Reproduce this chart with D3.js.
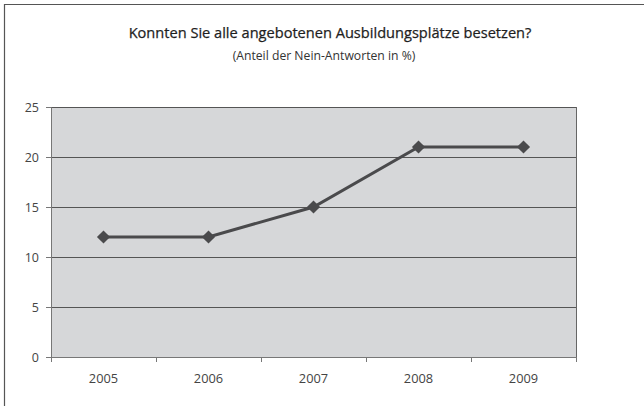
<!DOCTYPE html>
<html>
<head>
<meta charset="utf-8">
<script src="https://cdn.jsdelivr.net/npm/d3@7"></script>
<style>
  body { margin: 0; background: #fff; }
  text { font-family: "Open Sans", "DejaVu Sans", sans-serif; fill: #3a3a3a; }
</style>
</head>
<body>
<div id="chart"></div>
<script>
var years = ["2005", "2006", "2007", "2008", "2009"];
var values = [12, 12, 15, 21, 21];
var yTicks = [0, 5, 10, 15, 20, 25];

var svgWidth = 644;
var svgHeight = 406;

var margin = { top: 107, right: 68, bottom: 49, left: 51 };
var width = svgWidth - margin.left - margin.right;
var height = svgHeight - margin.top - margin.bottom;

var svg = d3.select("#chart")
    .append("svg")
    .attr("width", svgWidth)
    .attr("height", svgHeight);

// outer frame (top and left edges visible)
svg.append("path")
    .attr("d", "M4.5,406 V4.5 H644")
    .attr("fill", "none")
    .attr("stroke", "#555")
    .attr("stroke-width", 1.2);

// titles
svg.append("text")
    .attr("x", 330)
    .attr("y", 38)
    .attr("text-anchor", "middle")
    .style("font-size", "14.6px")
    .style("font-weight", "500")
    .style("fill", "#1e1e1e")
    .style("stroke", "#1e1e1e")
    .style("stroke-width", "0.25px")
    .text("Konnten Sie alle angebotenen Ausbildungsplätze besetzen?");

svg.append("text")
    .attr("x", 324)
    .attr("y", 60)
    .attr("text-anchor", "middle")
    .style("font-size", "12.2px")
    .style("fill", "#333")
    .text("(Anteil der Nein-Antworten in %)");

var chartGroup = svg.append("g")
    .attr("transform", `translate(${margin.left}, ${margin.top})`);

var xScale = d3.scaleBand()
    .domain(years)
    .range([0, width]);

var yScale = d3.scaleLinear()
    .domain([0, 25])
    .range([height, 0]);

// plot background
chartGroup.append("rect")
    .attr("x", 0)
    .attr("y", 0)
    .attr("width", width)
    .attr("height", height)
    .attr("fill", "#d6d7d9");

// gridlines
chartGroup.selectAll("line.grid")
    .data(yTicks.filter(d => d > 0))
    .enter()
    .append("line")
    .classed("grid", true)
    .attr("x1", 0)
    .attr("x2", width)
    .attr("y1", d => Math.round(yScale(d)) + 0.5)
    .attr("y2", d => Math.round(yScale(d)) + 0.5)
    .attr("stroke", "#555")
    .attr("stroke-width", 1);

// right border of plot
chartGroup.append("line")
    .attr("x1", width + 0.5)
    .attr("x2", width + 0.5)
    .attr("y1", 0)
    .attr("y2", height)
    .attr("stroke", "#666");

// y axis
var leftAxis = d3.axisLeft(yScale)
    .tickValues(yTicks)
    .tickSize(5)
    .tickPadding(7);

var yAxis = chartGroup.append("g")
    .call(leftAxis);
yAxis.select(".domain").attr("stroke", "#777");
yAxis.selectAll(".tick line").attr("stroke", "#777");
yAxis.selectAll("text")
    .style("font-size", "12.5px")
    .style("font-family", "'Open Sans', sans-serif")
    .style("fill", "#444");

// x axis with category boundary ticks
var xAxis = chartGroup.append("g")
    .attr("transform", `translate(0, ${height})`);

xAxis.append("line")
    .attr("x1", 0)
    .attr("x2", width)
    .attr("y1", 0.5)
    .attr("y2", 0.5)
    .attr("stroke", "#777");

var boundaries = years.map(d => xScale(d)).concat([width]);
xAxis.selectAll("line.tick")
    .data(boundaries)
    .enter()
    .append("line")
    .classed("tick", true)
    .attr("x1", d => Math.round(d) + 0.5)
    .attr("x2", d => Math.round(d) + 0.5)
    .attr("y1", 0)
    .attr("y2", 5)
    .attr("stroke", "#777");

xAxis.selectAll("text")
    .data(years)
    .enter()
    .append("text")
    .attr("x", d => xScale(d) + xScale.bandwidth() / 2)
    .attr("y", 26)
    .attr("text-anchor", "middle")
    .style("font-size", "12.8px")
    .style("fill", "#444")
    .text(d => d);

// data line
var data = years.map((y, i) => ({ year: y, value: values[i] }));

var line = d3.line()
    .x(d => xScale(d.year) + xScale.bandwidth() / 2)
    .y(d => yScale(d.value));

chartGroup.append("path")
    .datum(data)
    .attr("d", line)
    .attr("fill", "none")
    .attr("stroke", "#4a4a4c")
    .attr("stroke-width", 3);

// diamond markers
chartGroup.selectAll("path.marker")
    .data(data)
    .enter()
    .append("path")
    .classed("marker", true)
    .attr("d", d3.symbol().type(d3.symbolDiamond2).size(110))
    .attr("transform", d => `translate(${xScale(d.year) + xScale.bandwidth() / 2}, ${yScale(d.value)})`)
    .attr("fill", "#4a4a4c");
</script>
</body>
</html>
